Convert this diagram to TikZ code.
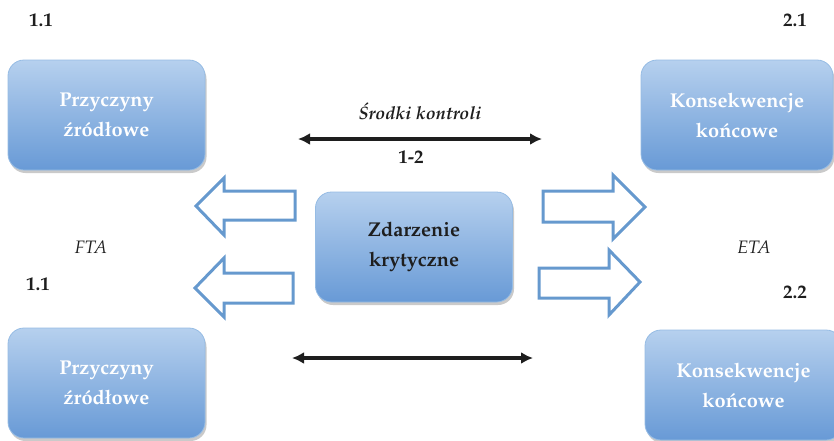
\documentclass[tikz,border=0pt]{standalone}
\usepackage[T1]{fontenc}
\usepackage{mathpazo}
\usetikzlibrary{arrows.meta,shadows}

\definecolor{boxtop}{RGB}{182,208,238}
\definecolor{boxbot}{RGB}{104,154,214}
\definecolor{boxedge}{RGB}{150,188,228}
\definecolor{outlineblue}{RGB}{102,153,206}
\definecolor{ink}{RGB}{30,30,30}

\tikzset{
  causebox/.style={
    rounded corners=16pt, minimum width=197pt, minimum height=110pt,
    top color=boxtop, bottom color=boxbot, draw=boxedge, line width=0.8pt,
    drop shadow={shadow xshift=1.5pt, shadow yshift=-3pt, opacity=0.35, fill=black!60},
    text=white, font=\fontsize{20}{30}\selectfont\bfseries, align=center, inner sep=0pt},
  eventbox/.style={causebox, text=ink},
  hollowarrow/.style={draw=outlineblue, line width=3pt, line join=miter, fill=white},
  twoway/.style={draw=ink, line width=3.2pt, {Latex[length=12pt,width=12pt]}-{Latex[length=12pt,width=12pt]}},
  numlabel/.style={text=ink, font=\fontsize{19}{22}\selectfont\bfseries, inner sep=0pt},
  methlabel/.style={text=ink, font=\fontsize{18}{22}\selectfont\itshape, inner sep=0pt}
}

\begin{document}
\begin{tikzpicture}[x=1pt, y=-1pt]
\useasboundingbox (0,0) rectangle (834,440);

% four outer boxes and the central event
\node[causebox] (causeA) at (106.5,115) {Przyczyny\\\'zr\'od\l owe};
\node[causebox] (causeB) at (106.5,383) {Przyczyny\\\'zr\'od\l owe};
\node[causebox, minimum width=192pt] (effA) at (737,115) {Konsekwencje\\ko\'ncowe};
\node[causebox, minimum width=197pt] (effB) at (743.5,385) {Konsekwencje\\ko\'ncowe};
\node[eventbox] (event) at (414,247) {Zdarzenie\\krytyczne};

% hollow block arrows towards the causes
\draw[hollowarrow] (196,206) -- (224,178) -- (224,191) -- (295,191) -- (295,220) -- (224,220) -- (224,235) -- cycle;
\draw[hollowarrow] (195,288) -- (224,258) -- (224,273) -- (293,273) -- (293,303) -- (224,303) -- (224,317) -- cycle;
% hollow block arrows towards the consequences
\draw[hollowarrow] (543,191) -- (613,191) -- (613,175) -- (645,207) -- (613,239) -- (613,222) -- (543,222) -- cycle;
\draw[hollowarrow] (539,268) -- (609,268) -- (609,250) -- (640,282) -- (609,315) -- (609,298) -- (539,298) -- cycle;

% control measures
\coordinate (ctlL) at (298,139);
\coordinate (ctlR) at (542,139);
\coordinate (ctlL2) at (292,358);
\coordinate (ctlR2) at (533,358);
\draw[twoway] (ctlL) -- (ctlR);
\draw[twoway] (ctlL2) -- (ctlR2);
\node[methlabel, font=\fontsize{18}{22}\selectfont\bfseries\itshape] (ctltxt) at (420,111) {\'Srodki kontroli};
\node[numlabel] (n12) at (411,157) {1-2};

% labels
\node[numlabel] (n11a) at (41,20) {1.1};
\node[numlabel] (n21) at (795,20) {2.1};
\node[numlabel] (n11b) at (38,284) {1.1};
\node[numlabel] (n22) at (795,292) {2.2};
\node[methlabel] (fta) at (91,247) {FTA};
\node[methlabel] (eta) at (754,247) {ETA};
\end{tikzpicture}
\end{document}
